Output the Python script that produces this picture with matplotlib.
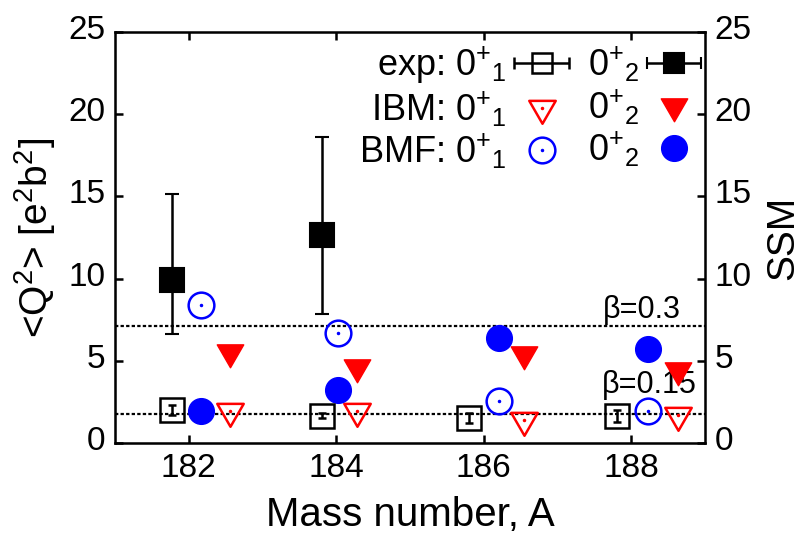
import numpy as np
import matplotlib
matplotlib.use('Agg')
import matplotlib.pyplot as plt
import matplotlib.transforms as mtransforms
from matplotlib.path import Path
from matplotlib.legend_handler import HandlerErrorbar, HandlerTuple

plt.rcParams['font.family'] = ['Liberation Sans', 'DejaVu Sans']
plt.rcParams['mathtext.fontset'] = 'custom'
plt.rcParams['mathtext.rm'] = 'Liberation Sans'
plt.rcParams['mathtext.it'] = 'Liberation Sans:italic'

# Data
mass = [182, 184, 186, 188]
exp_x = [181.77, 183.81, 185.80, 187.80]
ibm_x = [182.56, 184.28, 186.55, 188.64]
bmf_x = [182.17, 184.03, 186.20, 188.23]

exp_01 = [2.0, 1.66, 1.50, 1.64]
exp_01_err = [0.3, 0.15, 0.3, 0.35]
exp_02 = [9.9, 12.65, np.nan, np.nan]
exp_02_lo = [3.3, 4.8, 0, 0]
exp_02_hi = [5.25, 5.95, 0, 0]

ibm_01 = [1.96, 1.96, 1.40, 1.70]
ibm_02 = [5.52, 4.64, 5.39, 4.44]
bmf_01 = [8.39, 6.71, 2.57, 1.97]
bmf_02 = [1.95, 3.22, 6.37, 5.72]

beta_lines = [7.13, 1.75]
beta_labels = ['β=0.3', 'β=0.15']
beta_label_x = [188.67, 188.89]
beta_label_y = [7.60, 3.04]

yticks = [0, 5, 10, 15, 20, 25]
fs = 24

# downward triangle centred on its centroid (like gnuplot)
tri = Path([(-1, 0.577), (1, 0.577), (0, -1.155), (-1, 0.577)], closed=True)

fig = plt.figure(figsize=(8.06, 5.33), dpi=100)
ax = fig.add_axes([0.1427, 0.169, 0.732, 0.771])

for yb in beta_lines:
    ax.axhline(yb, color='black', lw=1.6, ls=(0, (1.5, 1.0)), zorder=1)
for bx, by, bl in zip(beta_label_x, beta_label_y, beta_labels):
    ax.text(bx, by, bl, ha='right', va='baseline', fontsize=22)

# experiment
ax.errorbar(exp_x, exp_01, yerr=exp_01_err, fmt='s', ms=17, mfc='none', mec='black',
            mew=1.8, ecolor='black', elinewidth=1.8, capsize=3, capthick=1.8, zorder=3)
ax.errorbar(exp_x, exp_02, yerr=[exp_02_lo, exp_02_hi], fmt='s', ms=17, mfc='black', mec='black',
            mew=1.5, ecolor='black', elinewidth=1.8, capsize=5, capthick=1.8, zorder=3)

# IBM
ax.plot(ibm_x, ibm_01, ls='none', marker=tri, ms=22, mfc='none', mec='red', mew=1.8, zorder=3)
ax.plot(ibm_x, ibm_01, ls='none', marker='.', ms=3, color='red', zorder=3)
ax.plot(ibm_x, ibm_02, ls='none', marker=tri, ms=22, mfc='red', mec='red', mew=1, zorder=3)

# BMF
ax.plot(bmf_x, bmf_01, ls='none', marker='o', ms=18.5, mfc='none', mec='blue', mew=1.8, zorder=3)
ax.plot(bmf_x, bmf_01, ls='none', marker='.', ms=3, color='blue', zorder=3)
ax.plot(bmf_x, bmf_02, ls='none', marker='o', ms=18.5, mfc='blue', mec='blue', mew=1, zorder=3)

ax.set_xlim(181, 189)
ax.set_ylim(0, 25)
ax.set_xticks(mass)
ax.set_yticks(yticks)
ax.tick_params(direction='in', length=6, width=1.8, top=True, right=False, labelsize=fs, pad=7)
for s in ax.spines.values():
    s.set_linewidth(1.8)

ax2 = ax.twinx()
ax2.set_ylim(0, 25)
ax2.set_yticks(yticks)
ax2.tick_params(direction='in', length=6, width=1.8, labelsize=fs, pad=7)
ax2.set_ylabel('SSM', fontsize=28, ha='center', va='center')
ax2.yaxis.set_label_coords(1.133, 0.5)

# gnuplot puts the y tick labels a little above the ticks
shift = mtransforms.ScaledTranslation(0, 5 / 100, fig.dpi_scale_trans)
for lab in ax.get_yticklabels() + ax2.get_yticklabels():
    lab.set_transform(lab.get_transform() + shift)

ax.set_xlabel('Mass number, A', fontsize=29, ha='center', va='center')
ax.xaxis.set_label_coords(0.5, -0.175)
ax.set_ylabel('<Q$^2$> [e$^2$b$^2$]', fontsize=28, ha='center', va='center')
ax.yaxis.set_label_coords(-0.136, 0.5)

# legend proxies
h_e1 = ax.errorbar([np.nan], [np.nan], xerr=[1], fmt='s', ms=14, mfc='none', mec='black', mew=1.8,
                   ecolor='black', elinewidth=1.8, capsize=4, capthick=1.8)
h_e2 = ax.errorbar([np.nan], [np.nan], xerr=[1], fmt='s', ms=14, mfc='black', mec='black', mew=1.5,
                   ecolor='black', elinewidth=1.8, capsize=4, capthick=1.8)
h_i1a, = ax.plot([], [], ls='none', marker=tri, ms=22, mfc='none', mec='red', mew=1.8)
h_i1b, = ax.plot([], [], ls='none', marker='.', ms=3, color='red')
h_i2, = ax.plot([], [], ls='none', marker=tri, ms=22, mfc='red', mec='red', mew=1)
h_b1a, = ax.plot([], [], ls='none', marker='o', ms=18.5, mfc='none', mec='blue', mew=1.8)
h_b1b, = ax.plot([], [], ls='none', marker='.', ms=3, color='blue')
h_b2, = ax.plot([], [], ls='none', marker='o', ms=18.5, mfc='blue', mec='blue', mew=1)

handles = [h_e1, (h_i1a, h_i1b), (h_b1a, h_b1b), h_e2, h_i2, h_b2]
labels = ['exp: 0$^{+}$$_{1}$', 'IBM: 0$^{+}$$_{1}$', 'BMF: 0$^{+}$$_{1}$',
          '0$^{+}$$_{2}$', '0$^{+}$$_{2}$', '0$^{+}$$_{2}$']
leg = ax.legend(handles, labels, ncol=2, markerfirst=False, frameon=False, fontsize=26,
                loc='upper right', bbox_to_anchor=(0.995, 0.970), borderaxespad=0.0, borderpad=0.0,
                handlelength=1.55, handletextpad=0.2, columnspacing=0.5, labelspacing=0.1,
                handler_map={h_e1: HandlerErrorbar(xerr_size=0.75), h_e2: HandlerErrorbar(xerr_size=0.75),
                             tuple: HandlerTuple(ndivide=1)})

fig.savefig('out.png', dpi=100)
